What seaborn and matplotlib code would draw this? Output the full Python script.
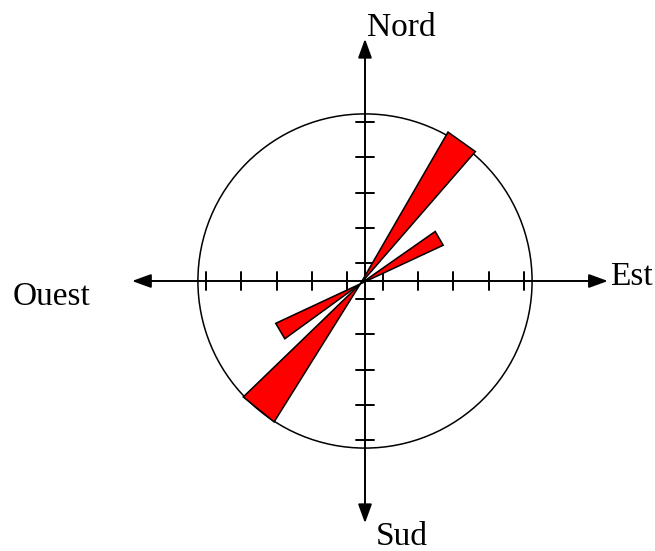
import numpy as np
import pandas as pd
import matplotlib
matplotlib.use("Agg")
import matplotlib.pyplot as plt
from matplotlib.patches import FancyArrowPatch, Circle
import seaborn as sns

# --- data: rose-diagram petals (bearing in degrees clockwise from North) ---
petal_start = [30, 212, 55, 234]
petal_end = [41, 226, 65, 245]
petal_length = [4.95, 4.6, 2.58, 2.64]

tick_positions = [-4.5, -3.5, -2.5, -1.5, -0.5, 0.5, 1.5, 2.5, 3.5, 4.5]
circle_radius = 4.72
direction_labels = ["Nord", "Sud", "Ouest", "Est"]

sns.set_theme(style="white")
plt.rcParams["font.family"] = ["Liberation Serif", "DejaVu Serif"]

fig = plt.figure(figsize=(6.55, 5.51), dpi=100)
ax = fig.add_axes([0, 0, 1, 1])
ax.set_xlim(-365 / 35.4, 290 / 35.4)
ax.set_ylim(-270 / 35.4, 281 / 35.4)
ax.set_aspect("equal")
ax.axis("off")

# circle
ax.add_patch(Circle((0, 0), circle_radius, fill=False, ec="black", lw=1.1, zorder=2))

# axes arrows
arrow_kw = dict(arrowstyle="-|>,head_length=1.15,head_width=0.42", mutation_scale=10,
                color="black", lw=1.4, shrinkA=0, shrinkB=0, zorder=3)
ax.add_patch(FancyArrowPatch((0, 0), (6.86, 0), **arrow_kw))
ax.add_patch(FancyArrowPatch((0, 0), (-6.58, 0), **arrow_kw))
ax.add_patch(FancyArrowPatch((0, 0), (0, 6.84), **arrow_kw))
ax.add_patch(FancyArrowPatch((0, 0), (0, -6.84), **arrow_kw))

# tick marks
for t in tick_positions:
    ax.plot([t, t], [-0.25, 0.25], color="black", lw=1.4, zorder=3)
    ax.plot([-0.25, 0.25], [t, t], color="black", lw=1.4, zorder=3)

# petals
df = pd.DataFrame({"start": petal_start, "end": petal_end, "length": petal_length})
cx, cy = -0.13, -0.08
for _, r in df.iterrows():
    a1 = np.deg2rad(90 - r["start"])
    a2 = np.deg2rad(90 - r["end"])
    xs = [cx, cx + r["length"] * np.cos(a1), cx + r["length"] * np.cos(a2)]
    ys = [cy, cy + r["length"] * np.sin(a1), cy + r["length"] * np.sin(a2)]
    ax.fill(xs, ys, facecolor="#ff0000", edgecolor="black", lw=1.1, zorder=4)

# labels
fs = 24
ax.text(0.06, 6.92, direction_labels[0], fontsize=fs, ha="left", va="baseline", color="black")
ax.text(0.31, -7.45, direction_labels[1], fontsize=fs, ha="left", va="baseline", color="black")
ax.text(-9.94, -0.68, direction_labels[2], fontsize=fs, ha="left", va="baseline", color="black")
ax.text(6.92, -0.11, direction_labels[3], fontsize=fs, ha="left", va="baseline", color="black")

fig.savefig("out.png", dpi=100, facecolor="white")
